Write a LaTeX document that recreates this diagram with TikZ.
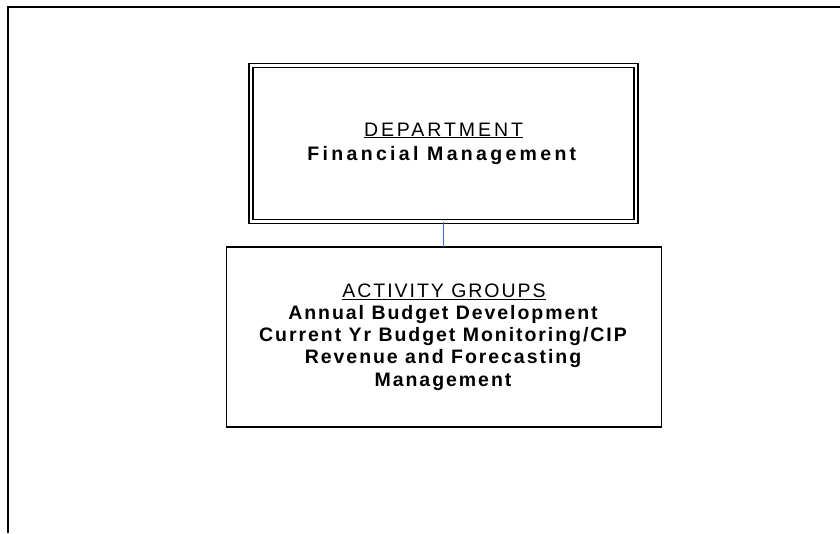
\documentclass[tikz,border=0pt]{standalone}
\usepackage{fontspec}
\setmainfont{Liberation Sans}
\newfontfamily\deptfont[LetterSpace=15,BoldFeatures={LetterSpace=17}]{Liberation Sans}
\newfontfamily\actfont[LetterSpace=10]{Liberation Sans}
\definecolor{linkblue}{RGB}{68,114,196}
\tikzstyle{deptbox}=[draw,line width=1.6pt,double,double distance=2.6pt,minimum width=385pt,minimum height=156pt,inner sep=0pt,outer sep=0pt,align=center,font=\deptfont\fontsize{19.5}{24}\selectfont]
\tikzstyle{actbox}=[draw,line width=1.5pt,minimum width=435pt,minimum height=180pt,inner sep=0pt,outer sep=0pt,align=center,font=\actfont\fontsize{19.5}{22.25}\selectfont]

\begin{document}
\begin{tikzpicture}[x=1pt,y=-1pt]
  \useasboundingbox (0,0) rectangle (840,533);
  \draw[line width=2pt] (8,533) -- (8,7) -- (840,7);

  \node[deptbox] at (443.5,143.5) (dept) {\underline{DEPARTMENT}\\ \textbf{Financial Management}};
  \node[actbox] at (444,337) (act) {\underline{ACTIVITY GROUPS}\\
    \textbf{Annual Budget Development}\\
    \textbf{Current Yr Budget Monitoring/CIP}\\
    \textbf{Revenue and Forecasting}\\
    \textbf{Management}};

  \draw[linkblue,line width=1.6pt] (dept.south) -- (dept.south |- act.north);
\end{tikzpicture}
\end{document}
